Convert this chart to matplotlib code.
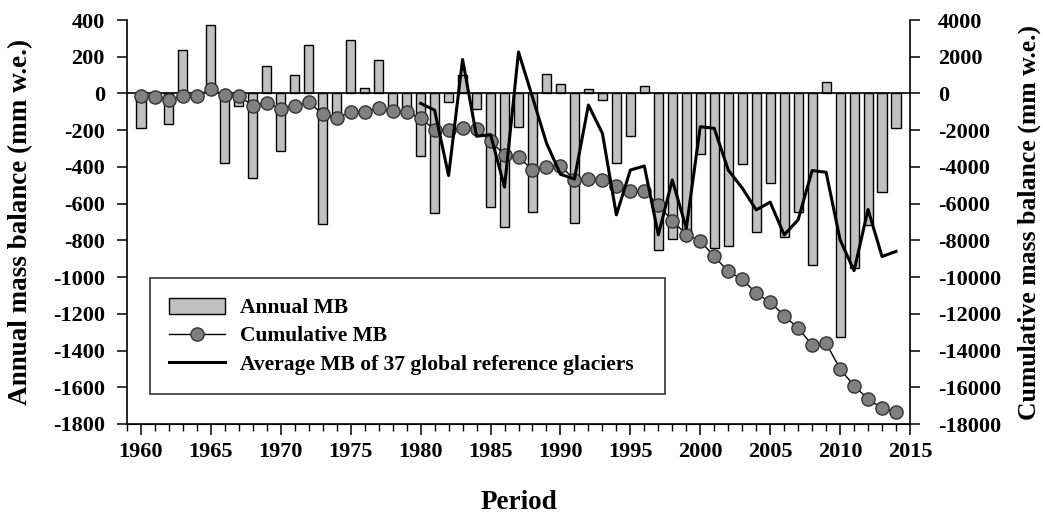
import matplotlib

matplotlib.use("Agg")
import matplotlib.pyplot as plt
from matplotlib.lines import Line2D
from matplotlib.patches import Patch
from matplotlib.ticker import MultipleLocator

plt.rcParams["font.family"] = ["Liberation Serif", "DejaVu Serif"]
plt.rcParams["font.weight"] = "bold"
plt.rcParams["axes.unicode_minus"] = False

years = list(range(1960, 2015))
annual_mb = [
    -190, -30, -165, 235, 5, 375, -377, -70, -458, 149,
    -313, 103, 263, -712, -120, 290, 31, 181, -85, -105,
    -338, -652, -45, 100, -85, -616, -725, -181, -643, 105,
    51, -707, 22, -33, -380, -230, 42, -855, -793, -760,
    -332, -842, -833, -386, -755, -489, -779, -647, -933, 65,
    -1328, -951, -716, -538, -187,
]
cumulative_mb = [
    -136, -172, -354, -118, -118, 227, -110, -136, -663, -499,
    -844, -681, -470, -1140, -1316, -1025, -989, -808, -953, -1025,
    -1352, -1969, -1990, -1878, -1960, -2604, -3330, -3475, -4147, -4002,
    -3929, -4700, -4655, -4691, -5054, -5327, -5290, -6089, -6924, -7686,
    -8030, -8875, -9690, -10118, -10880, -11370, -12096, -12786, -13693, -13602,
    -15000, -15926, -16633, -17142, -17360,
]
ref_years = list(range(1980, 2015))
ref_glaciers_mb = [
    -54, -91, -447, 185, -233, -224, -510, 226, -20, -270,
    -440, -466, -63, -217, -661, -417, -395, -770, -471, -734,
    -181, -190, -417, -515, -634, -592, -770, -688, -420, -429,
    -797, -965, -632, -888, -860,
]

fig = plt.figure(figsize=(10.43, 5.19), dpi=100)
ax = fig.add_axes([127 / 1043, 95 / 519, 783 / 1043, 404 / 519])
ax2 = ax.twinx()

bar_color = "#c0c0c0"
dot_color = "#808080"
fs_tick = 16
fs_label = 19.5

ax.bar(years, annual_mb, width=0.65, color=bar_color, edgecolor="black",
       linewidth=1.0, zorder=2)
ax.axhline(0, color="black", linewidth=1.2, zorder=3)

ax2.plot(years, cumulative_mb, color="black", linewidth=1.0, marker="o",
         markersize=9.5, markerfacecolor=dot_color, markeredgecolor="#333333",
         markeredgewidth=1.0, zorder=4)
# reference-glacier line sits on the left scale but is drawn above the dots
ax2.plot(ref_years, ref_glaciers_mb, color="black", linewidth=2.2,
         transform=ax.transData, zorder=5)

ax.set_xlim(1959, 2015)
ax.set_ylim(-1800, 400)
ax2.set_ylim(-18000, 4000)

ax.xaxis.set_major_locator(MultipleLocator(5))
ax.xaxis.set_minor_locator(MultipleLocator(1))
ax.yaxis.set_major_locator(MultipleLocator(200))
ax2.yaxis.set_major_locator(MultipleLocator(2000))

for a in (ax, ax2):
    a.spines["top"].set_visible(False)
ax.spines["right"].set_visible(False)
ax2.spines["left"].set_visible(False)
ax2.spines["right"].set_linewidth(1.2)
ax.spines["left"].set_linewidth(1.2)
ax.spines["bottom"].set_linewidth(1.2)

ax.tick_params(axis="x", which="major", direction="out", length=8, width=1.1,
               labelsize=fs_tick, pad=5)
ax.tick_params(axis="x", which="minor", direction="out", length=5, width=1.0)
ax.tick_params(axis="y", direction="out", length=7, width=1.1, labelsize=fs_tick,
               pad=9)
ax2.tick_params(axis="y", direction="out", length=7, width=1.1, labelsize=fs_tick,
                pad=13)

ax.set_xticks(range(1960, 2016, 5))
ax.set_xticklabels([str(y) for y in range(1960, 2016, 5)], fontweight="bold")

ax.set_xlabel("Period", fontsize=fs_label, fontweight="bold", labelpad=20)
ax.set_ylabel("Annual mass balance (mm w.e.)", fontsize=fs_label,
              fontweight="bold", labelpad=14)
ax2.set_ylabel("Cumulative mass balance (mm w.e.)", fontsize=18.5,
               fontweight="bold", labelpad=12)

handles = [
    Patch(facecolor=bar_color, edgecolor="black", linewidth=1.0),
    Line2D([], [], color="black", linewidth=1.0, marker="o", markersize=9.5,
           markerfacecolor=dot_color, markeredgecolor="#333333"),
    Line2D([], [], color="black", linewidth=2.2),
]
labels = ["Annual MB", "Cumulative MB", "Average MB of 37 global reference glaciers"]
leg = ax2.legend(handles, labels, loc="upper left",
                 bbox_to_anchor=(0.029, 0.072, 0.658, 0.289), mode="expand",
                 frameon=True, fancybox=False, edgecolor="black",
                 prop={"size": 15.5, "weight": "bold"}, handlelength=2.6,
                 handleheight=0.8, handletextpad=0.7, labelspacing=0.35,
                 borderpad=0.9, borderaxespad=0)
leg.get_frame().set_linewidth(1.2)
leg.set_zorder(10)

fig.savefig("out.png", dpi=100)
